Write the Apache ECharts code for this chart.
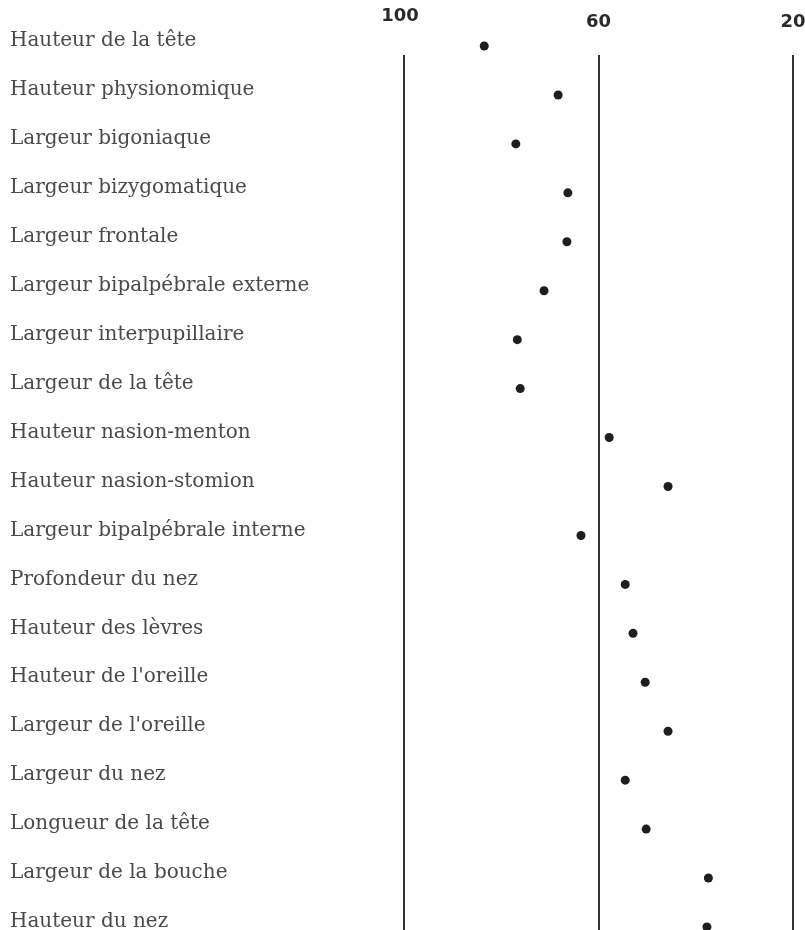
<!DOCTYPE html>
<html>
<head>
<meta charset="utf-8">
<script src="https://cdn.jsdelivr.net/npm/echarts@6/dist/echarts.min.js"></script>
<style>
  html, body { margin: 0; padding: 0; background: #fff; }
  #chart { width: 805px; height: 930px; }
</style>
</head>
<body>
<div id="chart"></div>
<script>
var mesures = [
  'Hauteur de la tête',
  'Hauteur physionomique',
  'Largeur bigoniaque',
  'Largeur bizygomatique',
  'Largeur frontale',
  'Largeur bipalpébrale externe',
  'Largeur interpupillaire',
  'Largeur de la tête',
  'Hauteur nasion-menton',
  'Hauteur nasion-stomion',
  'Largeur bipalpébrale interne',
  'Profondeur du nez',
  'Hauteur des lèvres',
  "Hauteur de l'oreille",
  "Largeur de l'oreille",
  'Largeur du nez',
  'Longueur de la tête',
  'Largeur de la bouche',
  'Hauteur du nez'
];

var valeurs = [83.5, 68.3, 77.0, 66.3, 66.5, 71.2, 76.7, 76.1, 57.8, 45.7,
  63.6, 54.5, 52.9, 50.4, 45.7, 54.5, 50.2, 37.4, 37.7];

var graduations = [100, 60, 20];

function drawGraphique () {

  var chartDom = document.getElementById('chart');
  var myChart = echarts.init(chartDom);
  var option;

  option = {
    animation: false,
    grid: [
      { left: 404, right: 12, top: 46, bottom: 3, outerBoundsMode: 'none' },
      { left: 404, right: 12, top: 55, bottom: 0, outerBoundsMode: 'none' }
    ],
    xAxis: [
      {
        gridIndex: 0,
        type: 'value',
        min: 20,
        max: 100,
        inverse: true,
        axisLine: { show: false },
        axisTick: { show: false },
        axisLabel: { show: false },
        splitLine: { show: false }
      },
      {
        gridIndex: 1,
        type: 'value',
        position: 'top',
        min: 20,
        max: 100,
        interval: 40,
        inverse: true,
        axisLine: { show: false },
        axisTick: { show: false },
        axisLabel: {
          margin: 24,
          color: '#2a2a2a',
          fontFamily: 'DejaVu Sans',
          fontSize: 18,
          fontWeight: 'bold',
          formatter: function (v) {
            if (graduations.indexOf(v) < 0) return '';
            return v === 100 ? '{haut|' + v + '}' : '{bas|' + v + '}';
          },
          rich: {
            haut: { fontFamily: 'DejaVu Sans', fontSize: 18, fontWeight: 'bold', color: '#2a2a2a', padding: [0, 8, 6, 0] },
            bas: { fontFamily: 'DejaVu Sans', fontSize: 18, fontWeight: 'bold', color: '#2a2a2a', padding: [0, 0, 0, 0] }
          }
        },
        splitLine: { show: true, lineStyle: { color: '#333', width: 2 } }
      }
    ],
    yAxis: [
      {
        gridIndex: 0,
        type: 'category',
        data: mesures,
        inverse: true,
        boundaryGap: false,
        axisLine: { show: false },
        axisTick: { show: false },
        splitLine: { show: false },
        axisLabel: {
          align: 'left',
          margin: 394,
          color: '#4a4a4a',
          formatter: function (v) {
            return '{t|' + v + '}';
          },
          rich: {
            t: { fontFamily: 'DejaVu Serif', fontSize: 20, color: '#4a4a4a', padding: [0, 0, 10, 0] }
          }
        }
      },
      {
        gridIndex: 1,
        type: 'value',
        show: false
      }
    ],
    series: [
      {
        type: 'scatter',
        xAxisIndex: 0,
        yAxisIndex: 0,
        data: valeurs,
        symbol: 'circle',
        symbolSize: 9,
        itemStyle: { color: '#1e1e1e', opacity: 1 }
      }
    ]
  };

  option && myChart.setOption(option);

}

drawGraphique()
</script>
</body>
</html>
